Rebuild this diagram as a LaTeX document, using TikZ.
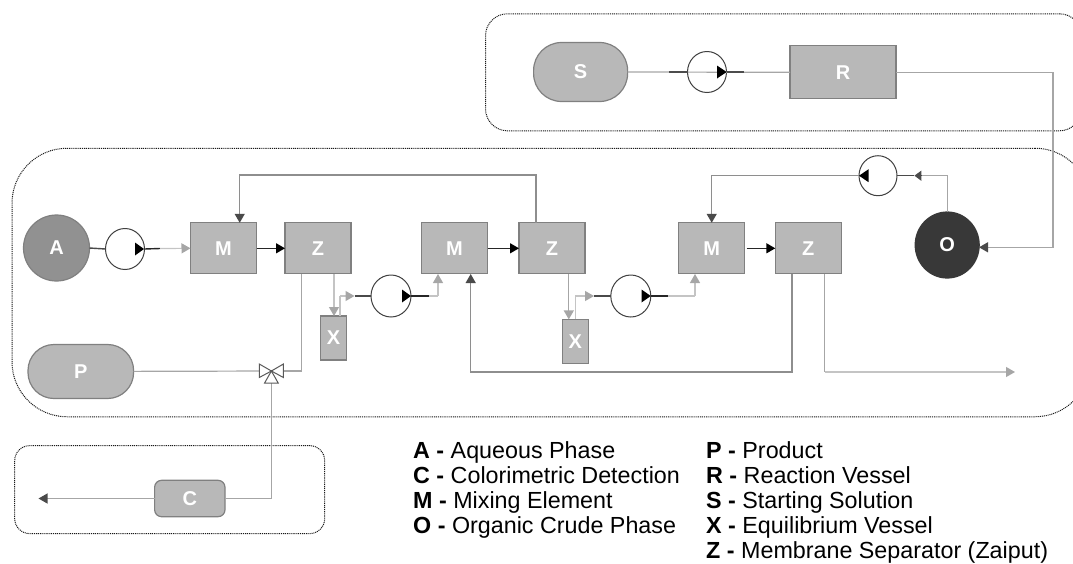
\documentclass[tikz,border=0pt]{standalone}
\usepackage{fontspec}
\setmainfont{Liberation Sans}
\usetikzlibrary{shapes.geometric,arrows.meta}
\definecolor{boxfill}{HTML}{B8B8B8}
\definecolor{boxedge}{HTML}{808080}
\definecolor{lightline}{HTML}{C4C4C4}
\definecolor{midline}{HTML}{A6A6A6}
\definecolor{retline}{HTML}{8E8E8E}
\definecolor{darkline}{HTML}{4A4A4A}
\tikzset{
  x=1pt,y=-1pt,
  unit/.style={draw=boxedge,fill=boxfill,line width=1.2pt,inner sep=0pt,outer sep=0pt,text=white,font=\fontsize{20}{20}\selectfont\bfseries},
  block/.style={unit,rectangle,minimum width=66pt,minimum height=51pt},
  vessel/.style={unit,rectangle,minimum width=26pt,minimum height=44pt},
  vial/.style={unit,ellipse,minimum width=66pt,minimum height=66pt},
  tank/.style={unit,rectangle,rounded corners=26pt,minimum height=54pt},
  pump/.style={ellipse,draw=black!75,fill=white,line width=1pt,inner sep=0pt,outer sep=0pt,minimum width=39pt,minimum height=41pt},
  frame/.style={draw=black!90,line width=1pt,dash pattern=on 1pt off 0.9pt,rectangle,inner sep=0pt,outer sep=0pt},
  light/.style={line width=1.2pt,draw=lightline},
  mid/.style={line width=1.2pt,draw=midline},
  ret/.style={line width=1.2pt,draw=retline},
  dark/.style={line width=1.4pt,draw=darkline},
  black line/.style={line width=1.4pt,draw=black!85},
  tipG/.style={-{Triangle[length=9pt,width=10pt,fill=midline,color=midline]}},
  tipD/.style={-{Triangle[length=9pt,width=10pt,fill=darkline,color=darkline]}},
  tipK/.style={-{Triangle[length=9pt,width=10pt,fill=black,color=black]}},
  legend/.style={anchor=north west,align=left,inner sep=0pt,font=\fontsize{23.3}{25.2}\selectfont},
  valvepart/.style={draw=black!65,fill=white,line width=1pt,line join=miter},
}
\newcommand{\pumphead}[3]{\fill[black] ([xshift=#2]#1.center) -- ++(#3,-6.5) -- ++(0,13) -- cycle;}
\begin{document}
\begin{tikzpicture}
\path[clip] (0,0) rectangle (1073,563);
% regions
\node[frame,rounded corners=22pt,minimum width=596pt,minimum height=117pt] (top) at (783.5,72.3) {};
\node[frame,rounded corners=55pt,minimum width=1078pt,minimum height=268.5pt] (main) at (551,282.5) {};
\node[frame,rounded corners=15pt,minimum width=310pt,minimum height=88pt] (low) at (169.7,489.6) {};
% units
\node[tank,minimum width=94pt,minimum height=59pt,rounded corners=28pt] (s) at (580.6,72) {S};
\node[pump] (ps) at (707,72) {};
\node[block,minimum width=106pt,minimum height=53pt] (r) at (843,72.3) {R};
\node[vial,fill=black!43] (a) at (56.5,248) {A};
\node[pump] (p1) at (125,249) {};
\node[block] (m1) at (223.5,248.3) {M};
\node[block] (z1) at (318,248.3) {Z};
\node[block] (m2) at (454.5,248.3) {M};
\node[block] (z2) at (552,248.3) {Z};
\node[block] (m3) at (711.7,248.3) {M};
\node[block] (z3) at (808.3,248.3) {Z};
\node[vessel] (x1) at (333.5,338) {X};
\node[vessel] (x2) at (575.3,341.4) {X};
\node[pump,minimum height=42pt,minimum width=40pt] (p2) at (391,296) {};
\node[pump,minimum height=42pt,minimum width=40pt] (p3) at (630.8,296) {};
\node[pump,minimum width=38pt,minimum height=40pt] (p4) at (878,175.7) {};
\node[vial,draw=black!78,fill=black!78,minimum width=64pt] (o) at (947.2,245) {O};
\node[tank,minimum width=105.6pt] (pp) at (80.8,371.5) {P};
\node[unit,rectangle,rounded corners=7pt,minimum width=70.4pt,minimum height=36.4pt] (c) at (189.8,498.5) {C};
% valve
\coordinate (vc) at (271.4,371);
\coordinate (vb) at (271.4,383);
\draw[mid] (pp) -- (vc);
\coordinate (z1a) at (301.6,274);
\coordinate (z1b) at (334,274);
\coordinate (x1t) at (334,316);
\coordinate (x1o) at (340,316);
\coordinate (x1p) at (354.5,296);
\coordinate (p2o) at (429,296);
\coordinate (m2a) at (438,274);
\coordinate (m2b) at (470.7,274);
\coordinate (c1) at (301.6,371);
\draw[mid] (z1a) -- (c1) -- (vc);
\coordinate (cr) at (271.4,498.5);
\draw[mid] (vb) -- (cr) -- (c.east);
\coordinate (cend) at (38.5,498.5);
\draw[mid,tipD] (c.west) -- (cend);
\path[valvepart] (vc) -- (259.3,364) -- (259.3,377.5) -- cycle;
\path[valvepart] (vc) -- (283.4,364) -- (283.4,377.5) -- cycle;
\path[valvepart] (vc) -- (264.6,383) -- (278.2,383) -- cycle;
% S line
\draw[mid] (s.east) -- (r.west);
\coordinate (psa) at (669,72);
\coordinate (psb) at (744,72);
\draw[dark,draw=black!70] (psa) -- (ps.west);
\draw[dark,draw=black!70] (ps.east) -- (psb);
\pumphead{ps}{19.6}{-9.6}
% R to O
\coordinate (ro1) at (1053,72.3);
\coordinate (ro2) at (1053,247.3);
\coordinate (oin) at (979,247.3);
\draw[mid,tipD] (r.east) -- (ro1) -- (ro2) -- (oin);
% A line
\draw[dark] (a.east) -- (p1.west);
\coordinate (p1o) at (160,248.5);
\draw[black line] (p1.east) -- (p1o);
\draw[light,tipG] (p1o) -- (m1.west);
\pumphead{p1}{19}{-9}
% M to Z
\draw[black line,tipK] (m1.east) -- (z1.west);
\draw[black line,tipK] (m2.east) -- (z2.west);
\coordinate (m3e) at (746.5,248.3);
\draw[black line,tipK] (m3e) -- (z3.west);
% Z1 to X1 to P2 to M2
\draw[light,tipG] (z1b) -- (x1t);
\coordinate (x1c) at (340,296);
\draw[light] (x1o) -- (x1c);
\draw[light,tipG] (x1c) -- (x1p);
\draw[dark] (x1p) -- (p2.west);
\draw[black line] (p2.east) -- (p2o);
\coordinate (m2c) at (438,296);
\draw[light] (p2o) -- (m2c);
\draw[light,tipG] (m2c) -- (m2a);
\pumphead{p2}{20}{-9}
% return to M2
\coordinate (z3a) at (792,274);
\coordinate (ra) at (792,372);
\coordinate (rb) at (470.7,372);
\draw[ret,tipD] (z3a) -- (ra) -- (rb) -- (m2b);
% Z2 to X2 to P3 to M3
\coordinate (z2b) at (568.8,274);
\coordinate (x2t) at (568.8,319.4);
\coordinate (x2o) at (575.4,319.4);
\coordinate (x2c) at (575.4,296);
\coordinate (x2p) at (594,296);
\coordinate (p3o) at (668,296);
\coordinate (m3c) at (695,296);
\coordinate (m3a) at (695,274);
\draw[mid,tipG] (z2b) -- (x2t);
\draw[light] (x2o) -- (x2c);
\draw[light,tipG] (x2c) -- (x2p);
\draw[dark] (x2p) -- (p3.west);
\draw[black line] (p3.east) -- (p3o);
\draw[light] (p3o) -- (m3c);
\draw[light,tipG] (m3c) -- (m3a);
\pumphead{p3}{20}{-9.3}
% return to M1
\coordinate (z2t) at (536,222.8);
\coordinate (t1) at (536,175);
\coordinate (t2) at (239.7,175);
\coordinate (m1t) at (239.7,222.8);
\draw[ret,tipD] (z2t) -- (t1) -- (t2) -- (m1t);
% O to P4 to M3
\coordinate (oc) at (947.2,175.7);
\coordinate (oa) at (914.4,175.7);
\draw[mid] (o.north) -- (oc) -- (921,175.7);
\draw[dark,-{Triangle[length=7pt,width=10pt,fill=darkline,color=darkline]}] (921.4,175.7) -- (oa);
\draw[dark] (oa) -- (p4.east);
\coordinate (q1) at (711.7,175.7);
\draw[ret,tipD] (p4.west) -- (q1) -- (m3.north);
\pumphead{p4}{-19}{9.6}
% exit
\coordinate (z3b) at (824.7,274);
\coordinate (e1) at (824.7,372);
\coordinate (e2) at (1015,372);
\draw[mid] (z3b) -- (e1);
\draw[light,tipG] (e1) -- (e2);
% legend
\node[legend] (lega) at (413,441) {\textbf{A -} Aqueous Phase\\\textbf{C -} Colorimetric Detection\\\textbf{M -} Mixing Element\\\textbf{O -} Organic Crude Phase};
\node[legend] (legb) at (706,441) {\textbf{P -} Product\\\textbf{R -} Reaction Vessel\\\textbf{S -} Starting Solution\\\textbf{X -} Equilibrium Vessel\\\textbf{Z -} Membrane Separator (Zaiput)};
\end{tikzpicture}
\end{document}
